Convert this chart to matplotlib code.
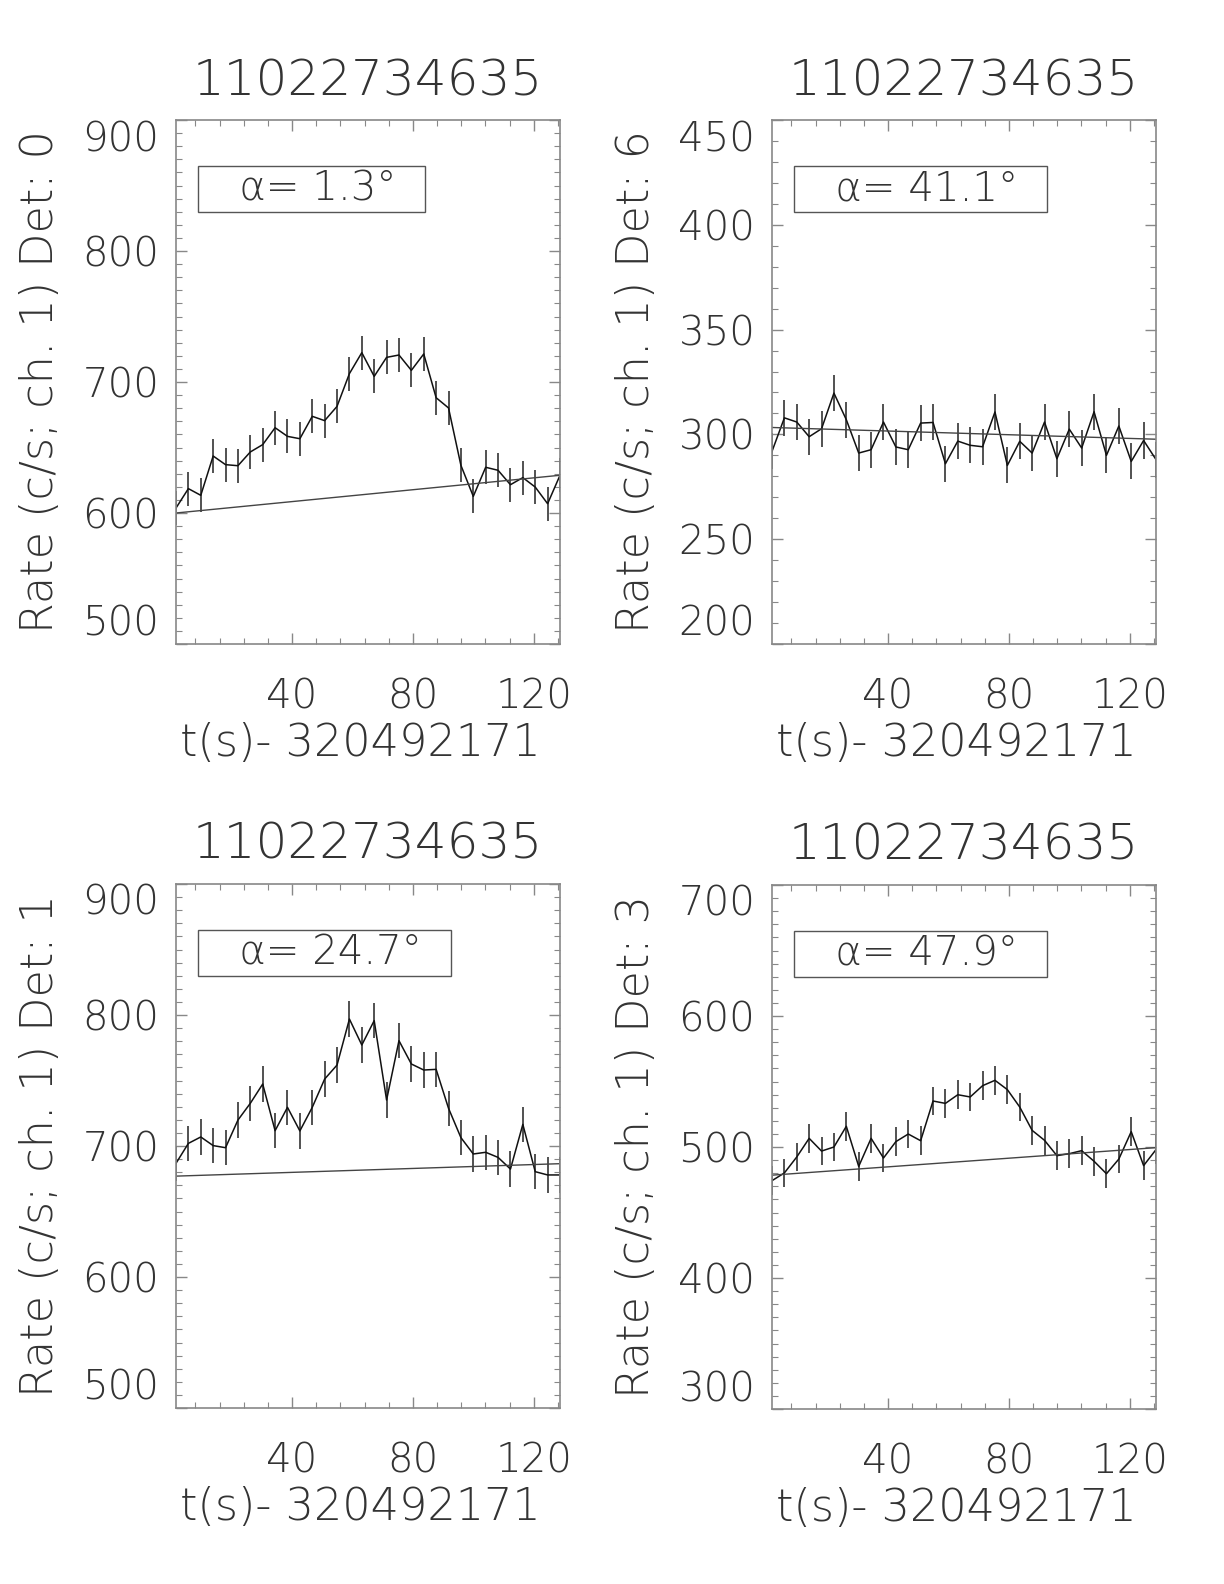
"""Four-detector light curves with background fits (IDL-style panels)."""
import matplotlib
matplotlib.use("Agg")
import matplotlib.pyplot as plt
from matplotlib.ticker import MultipleLocator

plt.rcParams["font.family"] = ["DejaVu Sans"]
plt.rcParams["font.weight"] = "light"
plt.rcParams["axes.labelweight"] = "light"

# time since 320492171 s (4.096 s bins)
t = [1.6, 5.7, 9.8, 13.9, 18.0, 22.1, 26.2, 30.3, 34.4, 38.5, 42.6, 46.7,
     50.8, 54.9, 59.0, 63.1, 67.2, 71.3, 75.4, 79.5, 83.6, 87.7, 91.8, 95.9,
     100.0, 104.1, 108.2, 112.3, 116.4, 120.5, 124.6, 128.7]

rate_det0 = [603.8, 618.6, 613.5, 643.5, 636.9, 636.1, 646.6, 652.2, 665.1, 658.5,
             656.7, 673.8, 670.5, 681.4, 706.4, 722.4, 704.3, 718.8, 720.6, 708.9,
             721.4, 688.0, 680.2, 636.4, 612.7, 634.9, 632.6, 621.6, 627.0, 619.8,
             607.1, 628.8]
rate_det6 = [291.9, 307.9, 305.9, 298.9, 302.7, 319.7, 307.0, 291.1, 292.7, 305.9,
             294.0, 292.7, 305.4, 305.7, 286.0, 296.8, 294.8, 294.1, 310.7, 285.2,
             296.7, 291.1, 305.9, 288.4, 302.5, 293.5, 310.8, 290.0, 304.0, 287.1,
             297.1, 288.0]
rate_det1 = [686.8, 702.0, 706.9, 700.3, 698.7, 719.8, 732.6, 747.3, 711.7, 729.5,
             711.5, 729.5, 751.1, 761.8, 796.9, 777.1, 795.7, 735.1, 780.4, 762.6,
             758.0, 758.5, 728.8, 706.4, 693.9, 695.2, 691.3, 682.4, 716.5, 680.4,
             677.9, 677.9]
rate_det3 = [474.3, 480.2, 492.4, 506.6, 496.9, 500.0, 515.8, 485.2, 506.6, 491.6,
             504.1, 509.9, 504.8, 535.1, 533.3, 539.9, 538.2, 546.8, 550.9, 543.8,
             530.5, 512.7, 505.1, 493.4, 494.9, 497.2, 489.1, 479.6, 490.8, 511.7,
             485.8, 498.0]

dets = [0, 6, 1, 3]
angles = [1.3, 41.1, 24.7, 47.9]
rates = [rate_det0, rate_det6, rate_det1, rate_det3]
errs = [13.0, 8.6, 13.5, 11.0]
fit_start = [600.0, 303.3, 677.0, 478.5]
fit_end = [628.8, 297.7, 686.5, 499.5]
ylims = [(500, 900), (200, 450), (500, 900), (300, 700)]
ymajor = [100, 50, 100, 100]

trig_id = "11022734635"
t0_label = "t(s)- 320492171"

W, H = 1224, 1584
fig = plt.figure(figsize=(W / 100, H / 100), dpi=100)

# axes boxes in pixels: (left, top)
boxes = [(176, 120), (772, 120), (176, 884), (772, 885)]
bw, bh = 384, 524

TXT = "#333333"
FS = 29

axes = []
for i, (left, top) in enumerate(boxes):
    ax = fig.add_axes([left / W, 1 - (top + bh) / H, bw / W, bh / H])
    axes.append(ax)
    ax.errorbar(t, rates[i], yerr=errs[i], fmt="none", ecolor="#222222",
                elinewidth=1.1, capsize=0)
    ax.plot(t, rates[i], color="#111111", lw=1.1)
    ax.plot([t[0], t[-1]], [fit_start[i], fit_end[i]], color="#444444", lw=1.0)

    ax.set_xlim(t[0], t[-1])
    ax.set_ylim(*ylims[i])
    ax.xaxis.set_major_locator(MultipleLocator(40))
    ax.xaxis.set_minor_locator(MultipleLocator(8))
    ax.yaxis.set_major_locator(MultipleLocator(ymajor[i]))
    ax.yaxis.set_minor_locator(MultipleLocator(10))
    ax.tick_params(which="both", direction="in", top=True, right=True,
                   color="#888888", labelsize=FS, labelcolor=TXT)
    ax.tick_params(which="major", length=8, width=1.0)
    ax.tick_params(which="minor", length=4, width=0.8)
    ax.tick_params(axis="x", pad=24)
    ax.tick_params(axis="y", pad=12)
    for sp in ax.spines.values():
        sp.set_color("#888888")
        sp.set_linewidth(1.2)

    ax.set_title(trig_id, fontsize=36, color=TXT, pad=18, fontweight="light")
    ax.set_xlabel(t0_label, fontsize=32, color=TXT, fontweight="light")
    ax.xaxis.set_label_coords(0.48, -0.148)
    ax.set_ylabel(f"Rate (c/s; ch. 1) Det: {dets[i]}", fontsize=32, color=TXT,
                  fontweight="light")
    ax.yaxis.set_label_coords(-0.297, 0.5)

    ax.text(0.066, 0.868, f"   α= {angles[i]}°  ", transform=ax.transAxes,
            fontsize=FS, color=TXT, va="center", ha="left", fontweight="light",
            bbox=dict(boxstyle="square,pad=0.08", fc="white", ec="#555555", lw=1.0))

# IDL keeps the end labels inside the axis range
fig.canvas.draw()
for ax in axes:
    lo, hi = ax.get_ylim()
    for tk in ax.yaxis.get_major_ticks():
        if abs(tk.get_loc() - lo) < 1e-6:
            tk.label1.set_va("bottom")
        elif abs(tk.get_loc() - hi) < 1e-6:
            tk.label1.set_va("top")

fig.savefig("out.png", dpi=100)
